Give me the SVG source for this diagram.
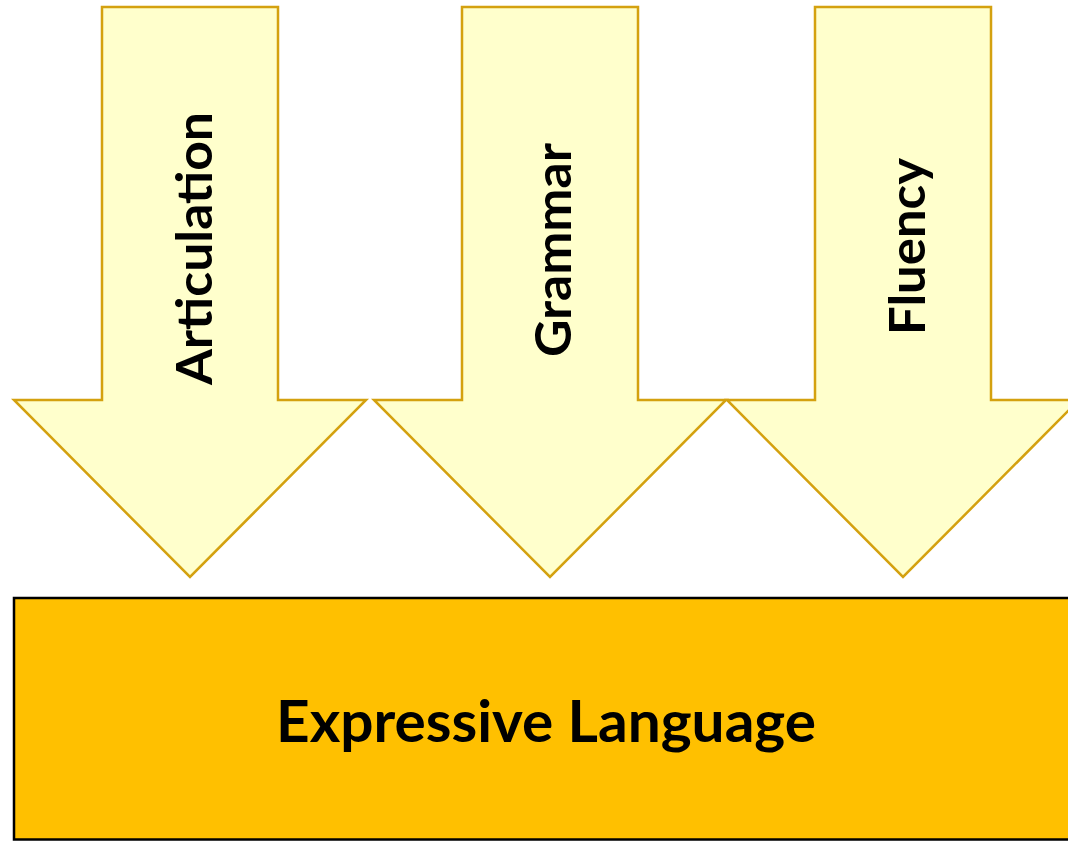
<svg xmlns="http://www.w3.org/2000/svg" width="1068" height="841" viewBox="0 0 1068 841">
<style>
.arrow{fill:#FFFFCC;stroke:#D4A10F;stroke-width:2.5;stroke-linejoin:miter}
.lbl{font-family:Lato,"Open Sans","Liberation Sans",sans-serif;font-weight:bold;fill:#000}
.box{fill:#FFC000;stroke:#000;stroke-width:2.5}
</style>
<rect width="1068" height="841" fill="#fff"/>
<g id="connectors"></g>
<g id="articulation">
<polygon class="arrow" points="102,7 278,7 278,400 366,400 190,577 14,400 102,400"/>
<text class="lbl" font-size="50" text-anchor="middle" transform="translate(212,248.5) rotate(-90)" textLength="273" lengthAdjust="spacingAndGlyphs">Articulation</text>
</g>
<g id="grammar">
<polygon class="arrow" points="462,7 638,7 638,400 726,400 550,577 374,400 462,400"/>
<text class="lbl" font-size="50" text-anchor="middle" transform="translate(571,250) rotate(-90)" textLength="214" lengthAdjust="spacingAndGlyphs">Grammar</text>
</g>
<g id="fluency">
<polygon class="arrow" points="815,7 991,7 991,400 1079,400 903,577 727,400 815,400"/>
<text class="lbl" font-size="50" text-anchor="middle" transform="translate(925,246.5) rotate(-90)" textLength="177" lengthAdjust="spacingAndGlyphs">Fluency</text>
</g>
<g id="expressive">
<rect class="box" x="14" y="598" width="1070" height="241.5"/>
<text class="lbl" font-size="57" text-anchor="middle" x="546" y="742" textLength="540" lengthAdjust="spacingAndGlyphs">Expressive Language</text>
</g>
</svg>
